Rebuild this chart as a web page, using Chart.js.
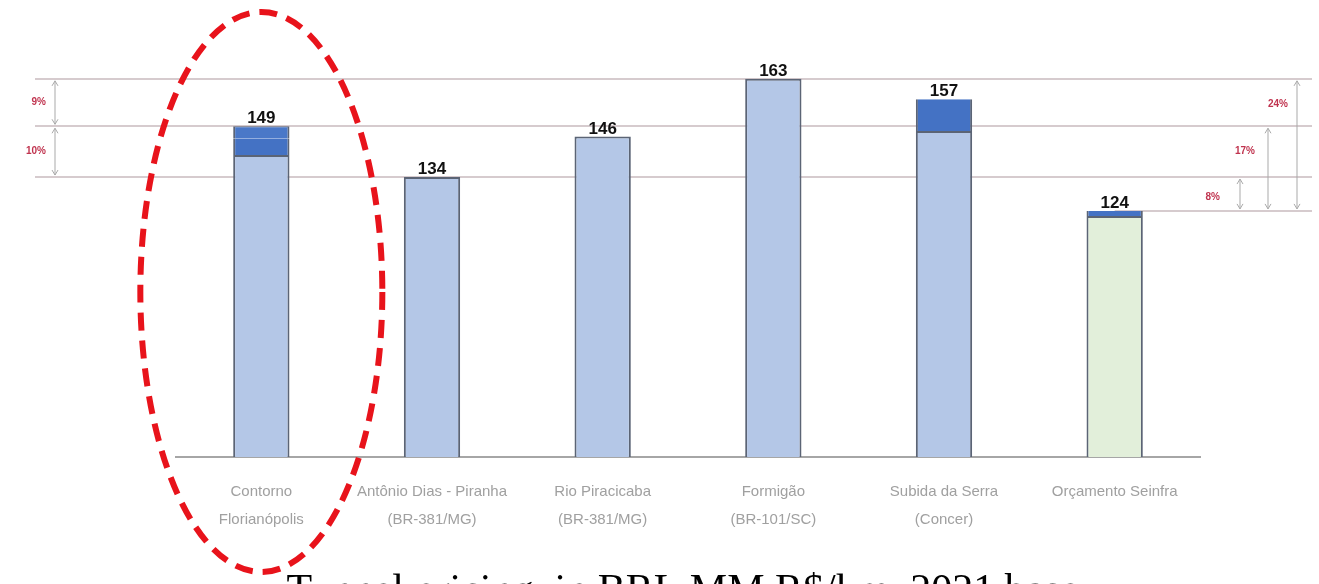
<!DOCTYPE html>
<html>
<head>
<meta charset="utf-8">
<script src="https://cdn.jsdelivr.net/npm/chart.js@4.4.1/dist/chart.umd.min.js"></script>
<style>
  html, body { margin: 0; padding: 0; background: #fff; }
  #wrap { position: relative; width: 1319px; height: 584px; }
</style>
</head>
<body>
<div id="wrap"><canvas id="chart" width="1319" height="584"></canvas></div>
<script>
// ---- dados ----
const categories = [
  ['Contorno', 'Florianópolis'],
  ['Antônio Dias - Piranha', '(BR-381/MG)'],
  ['Rio Piracicaba', '(BR-381/MG)'],
  ['Formigão', '(BR-101/SC)'],
  ['Subida da Serra', '(Concer)'],
  ['Orçamento Seinfra']
];
const baseValues = [140.5, 134, 146, 163, 147.6, 122.5];
const extraLow = [4.8, 0, 0, 0, 9.4, 1.5];
const extraHigh = [3.7, 0, 0, 0, 0, 0];
const totals = [149, 134, 146, 163, 157, 124];

// linhas de referência
const refLevels = [163, 149, 134];
const refLevelLow = 124;

// diferenças percentuais (texto, valor de, valor até)
const leftDiffs = [['9%', 163, 149], ['10%', 149, 134]];
const rightDiffs = [['8%', 134, 124], ['17%', 149, 124], ['24%', 163, 124]];

const caption = 'Tunnel pricing, in BRL MM R$/km, 2021 base';

const lightBlue = '#b4c7e7';
const darkBlue = '#4472c4';
const green = '#e2efda';
const edge = '#5b6475';

function arrow(ctx, x, y1, y2) {
  ctx.beginPath();
  ctx.moveTo(x, y1); ctx.lineTo(x, y2);
  ctx.moveTo(x - 3, y1 + 5); ctx.lineTo(x, y1); ctx.lineTo(x + 3, y1 + 5);
  ctx.moveTo(x - 3, y2 - 5); ctx.lineTo(x, y2); ctx.lineTo(x + 3, y2 - 5);
  ctx.stroke();
}

const decorations = {
  id: 'decorations',
  beforeDatasetsDraw(chart) {
    const ctx = chart.ctx;
    const y = chart.scales.y;
    const x = chart.scales.x;
    ctx.save();
    ctx.strokeStyle = '#d6cbce';
    ctx.lineWidth = 2;
    refLevels.forEach(v => {
      const py = Math.round(y.getPixelForValue(v));
      ctx.beginPath(); ctx.moveTo(35, py); ctx.lineTo(1312, py); ctx.stroke();
    });
    const pl = Math.round(y.getPixelForValue(refLevelLow));
    ctx.beginPath(); ctx.moveTo(x.getPixelForValue(5), pl); ctx.lineTo(1312, pl); ctx.stroke();

    // setas
    ctx.strokeStyle = '#a9a9a9';
    ctx.lineWidth = 1;
    ctx.fillStyle = '#c0344f';
    ctx.font = 'bold 10px "Liberation Sans Narrow", "Liberation Sans", sans-serif';
    ctx.textBaseline = 'middle';
    ctx.textAlign = 'right';
    leftDiffs.forEach(d => {
      const a = y.getPixelForValue(d[1]), b = y.getPixelForValue(d[2]);
      arrow(ctx, 55, a + 2, b - 2);
      ctx.fillText(d[0], 46, (a + b) / 2);
    });
    const rx = [1240, 1268, 1297];
    const gap = [20, 13, 9];
    rightDiffs.forEach((d, i) => {
      const a = y.getPixelForValue(d[1]), b = y.getPixelForValue(d[2]);
      arrow(ctx, rx[i], a + 2, b - 2);
      ctx.fillText(d[0], rx[i] - gap[i], i === 0 ? (a + b) / 2 + 3 : a + 25);
    });
    ctx.restore();
  },
  afterDatasetsDraw(chart) {
    const ctx = chart.ctx;
    const y = chart.scales.y;
    const x = chart.scales.x;
    ctx.save();
    ctx.fillStyle = '#111';
    ctx.font = 'bold 17px "Liberation Sans Narrow", "Liberation Sans", sans-serif';
    ctx.textAlign = 'center';
    ctx.textBaseline = 'bottom';
    totals.forEach((t, i) => {
      ctx.fillText(String(t), x.getPixelForValue(i), y.getPixelForValue(t) + 1);
    });

    // legenda inferior (cortada na borda)
    ctx.fillStyle = '#000';
    ctx.font = '42px "Liberation Serif", "Times New Roman", serif';
    ctx.textAlign = 'center';
    ctx.textBaseline = 'alphabetic';
    ctx.fillText(caption, 683, 603);

    // elipse tracejada
    ctx.strokeStyle = '#e8131b';
    ctx.lineWidth = 6;
    ctx.setLineDash([18, 10]);
    ctx.beginPath();
    ctx.ellipse(x.getPixelForValue(0), 292, 121, 280, 0, 0, Math.PI * 2);
    ctx.stroke();
    ctx.restore();
  }
};

const ctx = document.getElementById('chart').getContext('2d');
new Chart(ctx, {
  type: 'bar',
  data: {
    labels: categories,
    datasets: [
      {
        data: baseValues,
        backgroundColor: baseValues.map((v, i) => i === 5 ? green : lightBlue),
        borderColor: edge,
        borderWidth: 2,
        borderSkipped: false
      },
      {
        data: extraLow,
        backgroundColor: darkBlue,
        borderColor: edge,
        borderWidth: { left: 2, right: 2, top: 0, bottom: 0 },
        borderSkipped: false
      },
      {
        data: extraHigh,
        backgroundColor: '#4a78c8',
        borderColor: edge,
        borderWidth: { left: 2, right: 2, top: 1, bottom: 0 },
        borderSkipped: false
      }
    ]
  },
  options: {
    responsive: false,
    animation: false,
    layout: { padding: { left: 176, right: 119, top: 0, bottom: 0 } },
    plugins: { legend: { display: false }, tooltip: { enabled: false } },
    datasets: { bar: { categoryPercentage: 1, barPercentage: 0.33 } },
    scales: {
      x: {
        stacked: true,
        grid: { display: false, drawTicks: false },
        border: { display: true, color: '#a6a6a6', width: 2 },
        ticks: {
          color: '#a0a0a0',
          padding: 21,
          maxRotation: 0,
          autoSkip: false,
          font: { family: '"Liberation Sans Narrow", "Liberation Sans", sans-serif', size: 15, lineHeight: 1.85 }
        },
        afterFit(scale) { scale.height = 127; }
      },
      y: {
        stacked: true,
        display: false,
        min: 51.3,
        max: 186.3
      }
    }
  },
  plugins: [decorations]
});
</script>
</body>
</html>
